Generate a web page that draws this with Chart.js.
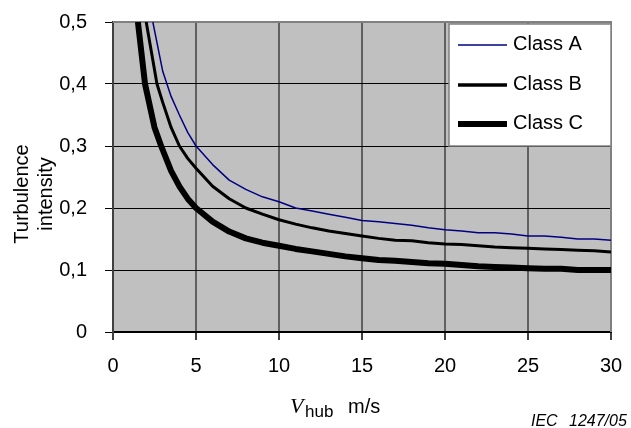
<!DOCTYPE html>
<html>
<head>
<meta charset="utf-8">
<script src="https://cdn.jsdelivr.net/npm/chart.js@4/dist/chart.umd.min.js"></script>
<style>
  html, body { margin: 0; padding: 0; background: #ffffff; }
  canvas { display: block; }
</style>
</head>
<body>
<canvas id="chart" width="631" height="428"></canvas>
<script>
// hub wind speed (m/s) and turbulence intensity
var speedA = [2.4, 3, 3.5, 4, 4.5, 5, 6, 7, 8, 9, 10, 11, 12, 13, 14, 15, 16, 17, 18, 19, 20, 21, 22, 23, 24, 25, 26, 27, 28, 29, 30];
var classA = [0.5, 0.42, 0.38, 0.35, 0.322, 0.30, 0.27, 0.245, 0.23, 0.218, 0.21, 0.20, 0.195, 0.19, 0.185, 0.18, 0.178, 0.175, 0.172, 0.168, 0.165, 0.163, 0.16, 0.16, 0.158, 0.155, 0.155, 0.153, 0.15, 0.15, 0.148];

var speedB = [2, 2.65, 3, 3.5, 4, 4.5, 5, 6, 7, 8, 9, 10, 11, 12, 13, 14, 15, 16, 17, 18, 19, 20, 21, 22, 23, 24, 25, 26, 27, 28, 29, 30];
var classB = [0.5, 0.4, 0.37, 0.33, 0.30, 0.28, 0.264, 0.235, 0.215, 0.2, 0.19, 0.181, 0.174, 0.168, 0.163, 0.159, 0.155, 0.151, 0.148, 0.147, 0.144, 0.142, 0.141, 0.139, 0.137, 0.136, 0.135, 0.134, 0.133, 0.132, 0.131, 0.129];

var speedC = [1.5, 1.93, 2.5, 2.9, 3.5, 4, 4.5, 5, 6, 7, 8, 9, 10, 11, 12, 13, 14, 15, 16, 17, 18, 19, 20, 21, 22, 23, 24, 25, 26, 27, 28, 29, 30];
var classC = [0.5, 0.4, 0.33, 0.3, 0.26, 0.235, 0.215, 0.2, 0.178, 0.162, 0.151, 0.144, 0.139, 0.134, 0.13, 0.126, 0.122, 0.119, 0.116, 0.115, 0.113, 0.111, 0.11, 0.108, 0.106, 0.105, 0.104, 0.103, 0.102, 0.102, 0.1, 0.1, 0.1];

var seriesNames = ['Class A', 'Class B', 'Class C'];
var xTicks = [0, 5, 10, 15, 20, 25, 30];
var yTicks = [0, 0.1, 0.2, 0.3, 0.4, 0.5];

var SANS = '"Liberation Sans", Arial, sans-serif';

function toPoints(xs, ys) {
  var pts = [];
  for (var i = 0; i < xs.length; i++) {
    pts.push({x: xs[i], y: ys[i]});
  }
  return pts;
}

function yLabel(v) {
  if (v == 0) return '0';
  return v.toFixed(1).replace('.', ',');
}

var plotBackground = {
  id: 'plotBackground',
  beforeDraw: function(chart) {
    var ctx = chart.ctx, a = chart.chartArea;
    ctx.save();
    ctx.fillStyle = '#ffffff';
    ctx.fillRect(0, 0, chart.width, chart.height);
    ctx.fillStyle = '#c0c0c0';
    ctx.fillRect(a.left, a.top, a.right - a.left, a.bottom - a.top);
    ctx.restore();
  },
  beforeDatasetsDraw: function(chart) {
    // grey frame on top and right
    var ctx = chart.ctx, a = chart.chartArea;
    ctx.save();
    ctx.strokeStyle = '#808080';
    ctx.lineWidth = 2;
    ctx.beginPath();
    ctx.moveTo(a.left, a.top);
    ctx.lineTo(a.right, a.top);
    ctx.lineTo(a.right, a.bottom);
    ctx.stroke();
    ctx.restore();
  }
};

var boxLegend = {
  id: 'boxLegend',
  afterDatasetsDraw: function(chart) {
    var ctx = chart.ctx;
    var x0 = 449, y0 = 24, w = 162, h = 122;
    ctx.save();
    ctx.fillStyle = '#ffffff';
    ctx.fillRect(x0, y0, w, h);
    ctx.strokeStyle = '#808080';
    ctx.lineWidth = 1.5;
    ctx.strokeRect(x0, y0, w, h);
    ctx.font = '20px ' + SANS;
    ctx.textBaseline = 'middle';
    ctx.fillStyle = '#000000';
    var rows = [45, 85, 124];
    chart.data.datasets.forEach(function(ds, i) {
      ctx.strokeStyle = ds.borderColor;
      ctx.lineWidth = ds.legendWidth;
      ctx.beginPath();
      ctx.moveTo(458, rows[i]);
      ctx.lineTo(507, rows[i]);
      ctx.stroke();
      ctx.fillText(ds.label, 513, rows[i] - 1);
    });
    ctx.restore();
  }
};

var axisTexts = {
  id: 'axisTexts',
  afterDraw: function(chart) {
    var ctx = chart.ctx;
    ctx.save();
    ctx.fillStyle = '#000000';
    // y title, two lines, rotated
    ctx.save();
    ctx.translate(0, 194);
    ctx.rotate(-Math.PI / 2);
    ctx.font = '20px ' + SANS;
    ctx.textAlign = 'center';
    ctx.textBaseline = 'alphabetic';
    ctx.fillText('Turbulence', 0, 28);
    ctx.fillText('intensity', 0, 52);
    ctx.restore();
    // x title: V hub  m/s
    ctx.textBaseline = 'alphabetic';
    ctx.font = 'italic 22px "Liberation Serif", "Times New Roman", serif';
    ctx.fillText('V', 290, 413);
    ctx.font = '17px ' + SANS;
    ctx.fillText('hub', 305, 417);
    ctx.font = '20px ' + SANS;
    ctx.fillText('m/s', 348, 413);
    // figure number
    ctx.font = 'italic 16px ' + SANS;
    ctx.fillText('IEC', 531, 426);
    ctx.fillText('1247/05', 569, 426);
    ctx.restore();
  }
};

var chart = new Chart(document.getElementById('chart'), {
  type: 'line',
  data: {
    datasets: [
      {
        label: seriesNames[0],
        data: toPoints(speedA, classA),
        borderColor: '#000080',
        borderWidth: 1.5,
        legendWidth: 1.5
      },
      {
        label: seriesNames[1],
        data: toPoints(speedB, classB),
        borderColor: '#000000',
        borderWidth: 3,
        legendWidth: 3.5
      },
      {
        label: seriesNames[2],
        data: toPoints(speedC, classC),
        borderColor: '#000000',
        borderWidth: 6,
        legendWidth: 6
      }
    ]
  },
  options: {
    responsive: false,
    animation: false,
    devicePixelRatio: 1,
    elements: {
      point: { radius: 0 },
      line: { tension: 0, borderCapStyle: 'butt', borderJoinStyle: 'round' }
    },
    layout: {
      padding: { left: 0, top: 22, right: 20, bottom: 0 }
    },
    plugins: {
      legend: { display: false },
      title: { display: false },
      tooltip: { enabled: false }
    },
    scales: {
      x: {
        type: 'linear',
        min: 0,
        max: 30,
        afterBuildTicks: function(scale) {
          scale.ticks = xTicks.map(function(v) { return {value: v}; });
        },
        afterFit: function(scale) {
          scale.height = 96;
          scale.paddingLeft = 0;
          scale.paddingRight = 0;
        },
        grid: {
          color: '#606060',
          lineWidth: 2,
          tickColor: '#000000',
          tickLength: 8,
          tickWidth: 1.5
        },
        border: { color: '#000000', width: 2 },
        ticks: {
          padding: 14,
          color: '#000000',
          font: { size: 20, family: SANS },
          maxRotation: 0,
          callback: function(v) { return String(v); }
        }
      },
      y: {
        type: 'linear',
        min: 0,
        max: 0.5,
        afterBuildTicks: function(scale) {
          scale.ticks = yTicks.map(function(v) { return {value: v}; });
        },
        afterFit: function(scale) {
          scale.width = 113;
          scale.paddingTop = 0;
          scale.paddingBottom = 0;
        },
        grid: {
          color: '#000000',
          lineWidth: 1,
          tickColor: '#000000',
          tickLength: 8
        },
        border: { color: '#404040', width: 2 },
        ticks: {
          padding: 18,
          color: '#000000',
          font: { size: 20, family: SANS },
          callback: function(v) { return yLabel(v); }
        }
      }
    }
  },
  plugins: [plotBackground, boxLegend, axisTexts]
});
</script>
</body>
</html>
